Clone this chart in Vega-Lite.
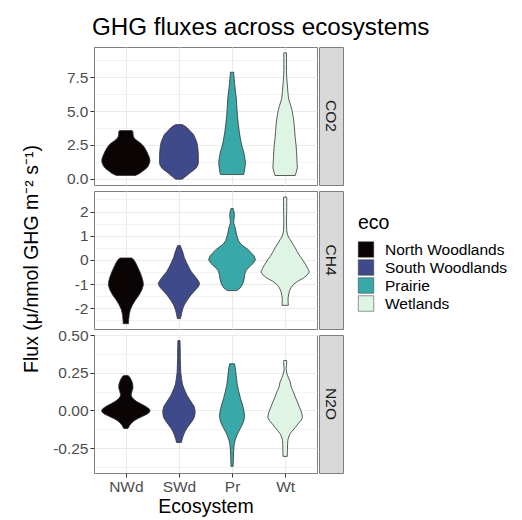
{
"$schema": "https://vega.github.io/schema/vega-lite/v6.json",
"padding": {"left": 21, "top": 16, "right": 5, "bottom": 5},
"background": "white",
"title": {"text": "GHG fluxes across ecosystems", "fontSize": 24.2, "fontWeight": "normal", "color": "black", "anchor": "start", "frame": "bounds", "dx": 70, "offset": 6},
"config": {"font": "Liberation Sans", "view": {"stroke": "#7F7F7F", "strokeWidth": 1}},
"data": {"values": [
{"gas":"CO2","eco":"North Woodlands","value":0.25,"w":0.36},{"gas":"CO2","eco":"North Woodlands","value":0.4,"w":0.52},{"gas":"CO2","eco":"North Woodlands","value":0.56,"w":0.63},{"gas":"CO2","eco":"North Woodlands","value":0.75,"w":0.76},{"gas":"CO2","eco":"North Woodlands","value":0.93,"w":0.84},{"gas":"CO2","eco":"North Woodlands","value":1.15,"w":0.89},{"gas":"CO2","eco":"North Woodlands","value":1.35,"w":0.91},{"gas":"CO2","eco":"North Woodlands","value":1.55,"w":0.89},{"gas":"CO2","eco":"North Woodlands","value":1.79,"w":0.84},{"gas":"CO2","eco":"North Woodlands","value":2.05,"w":0.78},{"gas":"CO2","eco":"North Woodlands","value":2.29,"w":0.71},{"gas":"CO2","eco":"North Woodlands","value":2.5,"w":0.63},{"gas":"CO2","eco":"North Woodlands","value":2.65,"w":0.55},{"gas":"CO2","eco":"North Woodlands","value":2.8,"w":0.44},{"gas":"CO2","eco":"North Woodlands","value":2.95,"w":0.34},{"gas":"CO2","eco":"North Woodlands","value":3.1,"w":0.29},{"gas":"CO2","eco":"North Woodlands","value":3.3,"w":0.27},{"gas":"CO2","eco":"North Woodlands","value":3.45,"w":0.27},{"gas":"CO2","eco":"North Woodlands","value":3.56,"w":0.24},
{"gas":"CO2","eco":"South Woodlands","value":-0.02,"w":0.12},{"gas":"CO2","eco":"South Woodlands","value":0.07,"w":0.18},{"gas":"CO2","eco":"South Woodlands","value":0.25,"w":0.3},{"gas":"CO2","eco":"South Woodlands","value":0.44,"w":0.41},{"gas":"CO2","eco":"South Woodlands","value":0.62,"w":0.54},{"gas":"CO2","eco":"South Woodlands","value":0.81,"w":0.65},{"gas":"CO2","eco":"South Woodlands","value":1.0,"w":0.71},{"gas":"CO2","eco":"South Woodlands","value":1.18,"w":0.73},{"gas":"CO2","eco":"South Woodlands","value":1.5,"w":0.73},{"gas":"CO2","eco":"South Woodlands","value":1.79,"w":0.73},{"gas":"CO2","eco":"South Woodlands","value":2.05,"w":0.72},{"gas":"CO2","eco":"South Woodlands","value":2.29,"w":0.71},{"gas":"CO2","eco":"South Woodlands","value":2.55,"w":0.69},{"gas":"CO2","eco":"South Woodlands","value":2.78,"w":0.66},{"gas":"CO2","eco":"South Woodlands","value":3.05,"w":0.6},{"gas":"CO2","eco":"South Woodlands","value":3.27,"w":0.55},{"gas":"CO2","eco":"South Woodlands","value":3.5,"w":0.44},{"gas":"CO2","eco":"South Woodlands","value":3.76,"w":0.31},{"gas":"CO2","eco":"South Woodlands","value":3.9,"w":0.22},{"gas":"CO2","eco":"South Woodlands","value":4.0,"w":0.12},
{"gas":"CO2","eco":"Prairie","value":0.32,"w":0.44},{"gas":"CO2","eco":"Prairie","value":0.44,"w":0.45},{"gas":"CO2","eco":"Prairie","value":0.6,"w":0.47},{"gas":"CO2","eco":"Prairie","value":0.81,"w":0.48},{"gas":"CO2","eco":"Prairie","value":1.05,"w":0.5},{"gas":"CO2","eco":"Prairie","value":1.3,"w":0.5},{"gas":"CO2","eco":"Prairie","value":1.55,"w":0.48},{"gas":"CO2","eco":"Prairie","value":1.79,"w":0.46},{"gas":"CO2","eco":"Prairie","value":2.05,"w":0.43},{"gas":"CO2","eco":"Prairie","value":2.29,"w":0.39},{"gas":"CO2","eco":"Prairie","value":2.6,"w":0.35},{"gas":"CO2","eco":"Prairie","value":3.02,"w":0.31},{"gas":"CO2","eco":"Prairie","value":3.5,"w":0.27},{"gas":"CO2","eco":"Prairie","value":4.0,"w":0.24},{"gas":"CO2","eco":"Prairie","value":4.5,"w":0.21},{"gas":"CO2","eco":"Prairie","value":4.99,"w":0.19},{"gas":"CO2","eco":"Prairie","value":5.5,"w":0.175},{"gas":"CO2","eco":"Prairie","value":5.97,"w":0.16},{"gas":"CO2","eco":"Prairie","value":6.45,"w":0.13},{"gas":"CO2","eco":"Prairie","value":6.95,"w":0.1},{"gas":"CO2","eco":"Prairie","value":7.4,"w":0.08},{"gas":"CO2","eco":"Prairie","value":7.86,"w":0.06},
{"gas":"CO2","eco":"Wetlands","value":0.25,"w":0.38},{"gas":"CO2","eco":"Wetlands","value":0.44,"w":0.41},{"gas":"CO2","eco":"Wetlands","value":0.81,"w":0.46},{"gas":"CO2","eco":"Wetlands","value":1.2,"w":0.45},{"gas":"CO2","eco":"Wetlands","value":1.55,"w":0.44},{"gas":"CO2","eco":"Wetlands","value":2.0,"w":0.43},{"gas":"CO2","eco":"Wetlands","value":2.53,"w":0.41},{"gas":"CO2","eco":"Wetlands","value":3.0,"w":0.38},{"gas":"CO2","eco":"Wetlands","value":3.51,"w":0.36},{"gas":"CO2","eco":"Wetlands","value":4.0,"w":0.34},{"gas":"CO2","eco":"Wetlands","value":4.5,"w":0.31},{"gas":"CO2","eco":"Wetlands","value":4.85,"w":0.28},{"gas":"CO2","eco":"Wetlands","value":5.13,"w":0.25},{"gas":"CO2","eco":"Wetlands","value":5.4,"w":0.21},{"gas":"CO2","eco":"Wetlands","value":5.6,"w":0.18},{"gas":"CO2","eco":"Wetlands","value":5.9,"w":0.13},{"gas":"CO2","eco":"Wetlands","value":6.46,"w":0.1},{"gas":"CO2","eco":"Wetlands","value":7.0,"w":0.08},{"gas":"CO2","eco":"Wetlands","value":7.45,"w":0.06},{"gas":"CO2","eco":"Wetlands","value":8.0,"w":0.05},{"gas":"CO2","eco":"Wetlands","value":8.43,"w":0.05},{"gas":"CO2","eco":"Wetlands","value":8.9,"w":0.05},{"gas":"CO2","eco":"Wetlands","value":9.29,"w":0.05},
{"gas":"CH4","eco":"North Woodlands","value":-2.64,"w":0.1},{"gas":"CH4","eco":"North Woodlands","value":-2.45,"w":0.11},{"gas":"CH4","eco":"North Woodlands","value":-2.25,"w":0.13},{"gas":"CH4","eco":"North Woodlands","value":-2.06,"w":0.17},{"gas":"CH4","eco":"North Woodlands","value":-1.85,"w":0.26},{"gas":"CH4","eco":"North Woodlands","value":-1.65,"w":0.37},{"gas":"CH4","eco":"North Woodlands","value":-1.45,"w":0.5},{"gas":"CH4","eco":"North Woodlands","value":-1.25,"w":0.6},{"gas":"CH4","eco":"North Woodlands","value":-1.05,"w":0.66},{"gas":"CH4","eco":"North Woodlands","value":-0.9,"w":0.65},{"gas":"CH4","eco":"North Woodlands","value":-0.7,"w":0.6},{"gas":"CH4","eco":"North Woodlands","value":-0.5,"w":0.53},{"gas":"CH4","eco":"North Woodlands","value":-0.3,"w":0.45},{"gas":"CH4","eco":"North Woodlands","value":-0.1,"w":0.36},{"gas":"CH4","eco":"North Woodlands","value":0.02,"w":0.29},{"gas":"CH4","eco":"North Woodlands","value":0.08,"w":0.22},
{"gas":"CH4","eco":"South Woodlands","value":-2.43,"w":0.06},{"gas":"CH4","eco":"South Woodlands","value":-2.2,"w":0.1},{"gas":"CH4","eco":"South Woodlands","value":-2.0,"w":0.15},{"gas":"CH4","eco":"South Woodlands","value":-1.85,"w":0.21},{"gas":"CH4","eco":"South Woodlands","value":-1.65,"w":0.32},{"gas":"CH4","eco":"South Woodlands","value":-1.44,"w":0.46},{"gas":"CH4","eco":"South Woodlands","value":-1.25,"w":0.62},{"gas":"CH4","eco":"South Woodlands","value":-1.1,"w":0.74},{"gas":"CH4","eco":"South Woodlands","value":-0.97,"w":0.78},{"gas":"CH4","eco":"South Woodlands","value":-0.85,"w":0.72},{"gas":"CH4","eco":"South Woodlands","value":-0.7,"w":0.62},{"gas":"CH4","eco":"South Woodlands","value":-0.5,"w":0.47},{"gas":"CH4","eco":"South Woodlands","value":-0.3,"w":0.37},{"gas":"CH4","eco":"South Woodlands","value":-0.1,"w":0.28},{"gas":"CH4","eco":"South Woodlands","value":0.1,"w":0.2},{"gas":"CH4","eco":"South Woodlands","value":0.3,"w":0.15},{"gas":"CH4","eco":"South Woodlands","value":0.45,"w":0.1},{"gas":"CH4","eco":"South Woodlands","value":0.59,"w":0.05},
{"gas":"CH4","eco":"Prairie","value":-1.27,"w":0.18},{"gas":"CH4","eco":"Prairie","value":-1.15,"w":0.32},{"gas":"CH4","eco":"Prairie","value":-1.0,"w":0.4},{"gas":"CH4","eco":"Prairie","value":-0.8,"w":0.45},{"gas":"CH4","eco":"Prairie","value":-0.6,"w":0.48},{"gas":"CH4","eco":"Prairie","value":-0.45,"w":0.52},{"gas":"CH4","eco":"Prairie","value":-0.3,"w":0.64},{"gas":"CH4","eco":"Prairie","value":-0.15,"w":0.79},{"gas":"CH4","eco":"Prairie","value":0.0,"w":0.88},{"gas":"CH4","eco":"Prairie","value":0.15,"w":0.84},{"gas":"CH4","eco":"Prairie","value":0.3,"w":0.72},{"gas":"CH4","eco":"Prairie","value":0.43,"w":0.6},{"gas":"CH4","eco":"Prairie","value":0.55,"w":0.45},{"gas":"CH4","eco":"Prairie","value":0.65,"w":0.33},{"gas":"CH4","eco":"Prairie","value":0.8,"w":0.24},{"gas":"CH4","eco":"Prairie","value":0.98,"w":0.19},{"gas":"CH4","eco":"Prairie","value":1.15,"w":0.15},{"gas":"CH4","eco":"Prairie","value":1.33,"w":0.12},{"gas":"CH4","eco":"Prairie","value":1.5,"w":0.07},{"gas":"CH4","eco":"Prairie","value":1.6,"w":0.06},{"gas":"CH4","eco":"Prairie","value":1.75,"w":0.08},{"gas":"CH4","eco":"Prairie","value":1.88,"w":0.09},{"gas":"CH4","eco":"Prairie","value":2.0,"w":0.07},{"gas":"CH4","eco":"Prairie","value":2.13,"w":0.04},
{"gas":"CH4","eco":"Wetlands","value":-1.88,"w":0.12},{"gas":"CH4","eco":"Wetlands","value":-1.7,"w":0.11},{"gas":"CH4","eco":"Wetlands","value":-1.58,"w":0.11},{"gas":"CH4","eco":"Wetlands","value":-1.45,"w":0.13},{"gas":"CH4","eco":"Wetlands","value":-1.3,"w":0.16},{"gas":"CH4","eco":"Wetlands","value":-1.15,"w":0.22},{"gas":"CH4","eco":"Wetlands","value":-1.02,"w":0.31},{"gas":"CH4","eco":"Wetlands","value":-0.88,"w":0.48},{"gas":"CH4","eco":"Wetlands","value":-0.75,"w":0.69},{"gas":"CH4","eco":"Wetlands","value":-0.62,"w":0.84},{"gas":"CH4","eco":"Wetlands","value":-0.5,"w":0.91},{"gas":"CH4","eco":"Wetlands","value":-0.35,"w":0.85},{"gas":"CH4","eco":"Wetlands","value":-0.19,"w":0.77},{"gas":"CH4","eco":"Wetlands","value":0.0,"w":0.66},{"gas":"CH4","eco":"Wetlands","value":0.15,"w":0.56},{"gas":"CH4","eco":"Wetlands","value":0.35,"w":0.45},{"gas":"CH4","eco":"Wetlands","value":0.5,"w":0.38},{"gas":"CH4","eco":"Wetlands","value":0.65,"w":0.29},{"gas":"CH4","eco":"Wetlands","value":0.84,"w":0.19},{"gas":"CH4","eco":"Wetlands","value":0.95,"w":0.12},{"gas":"CH4","eco":"Wetlands","value":1.05,"w":0.09},{"gas":"CH4","eco":"Wetlands","value":1.2,"w":0.06},{"gas":"CH4","eco":"Wetlands","value":1.6,"w":0.05},{"gas":"CH4","eco":"Wetlands","value":2.16,"w":0.06},{"gas":"CH4","eco":"Wetlands","value":2.4,"w":0.06},{"gas":"CH4","eco":"Wetlands","value":2.6,"w":0.06},
{"gas":"N2O","eco":"North Woodlands","value":-0.12,"w":0.08},{"gas":"N2O","eco":"North Woodlands","value":-0.1,"w":0.14},{"gas":"N2O","eco":"North Woodlands","value":-0.085,"w":0.21},{"gas":"N2O","eco":"North Woodlands","value":-0.07,"w":0.3},{"gas":"N2O","eco":"North Woodlands","value":-0.055,"w":0.44},{"gas":"N2O","eco":"North Woodlands","value":-0.04,"w":0.62},{"gas":"N2O","eco":"North Woodlands","value":-0.025,"w":0.8},{"gas":"N2O","eco":"North Woodlands","value":-0.01,"w":0.9},{"gas":"N2O","eco":"North Woodlands","value":0.003,"w":0.91},{"gas":"N2O","eco":"North Woodlands","value":0.015,"w":0.85},{"gas":"N2O","eco":"North Woodlands","value":0.03,"w":0.72},{"gas":"N2O","eco":"North Woodlands","value":0.045,"w":0.55},{"gas":"N2O","eco":"North Woodlands","value":0.06,"w":0.4},{"gas":"N2O","eco":"North Woodlands","value":0.075,"w":0.29},{"gas":"N2O","eco":"North Woodlands","value":0.09,"w":0.22},{"gas":"N2O","eco":"North Woodlands","value":0.105,"w":0.2},{"gas":"N2O","eco":"North Woodlands","value":0.125,"w":0.23},{"gas":"N2O","eco":"North Woodlands","value":0.15,"w":0.27},{"gas":"N2O","eco":"North Woodlands","value":0.175,"w":0.26},{"gas":"N2O","eco":"North Woodlands","value":0.2,"w":0.21},{"gas":"N2O","eco":"North Woodlands","value":0.22,"w":0.15},{"gas":"N2O","eco":"North Woodlands","value":0.232,"w":0.08},
{"gas":"N2O","eco":"South Woodlands","value":-0.213,"w":0.09},{"gas":"N2O","eco":"South Woodlands","value":-0.184,"w":0.13},{"gas":"N2O","eco":"South Woodlands","value":-0.16,"w":0.18},{"gas":"N2O","eco":"South Woodlands","value":-0.14,"w":0.23},{"gas":"N2O","eco":"South Woodlands","value":-0.118,"w":0.3},{"gas":"N2O","eco":"South Woodlands","value":-0.096,"w":0.39},{"gas":"N2O","eco":"South Woodlands","value":-0.075,"w":0.48},{"gas":"N2O","eco":"South Woodlands","value":-0.053,"w":0.56},{"gas":"N2O","eco":"South Woodlands","value":-0.03,"w":0.6},{"gas":"N2O","eco":"South Woodlands","value":-0.009,"w":0.61},{"gas":"N2O","eco":"South Woodlands","value":0.015,"w":0.59},{"gas":"N2O","eco":"South Woodlands","value":0.03,"w":0.56},{"gas":"N2O","eco":"South Woodlands","value":0.046,"w":0.5},{"gas":"N2O","eco":"South Woodlands","value":0.07,"w":0.41},{"gas":"N2O","eco":"South Woodlands","value":0.1,"w":0.3},{"gas":"N2O","eco":"South Woodlands","value":0.125,"w":0.24},{"gas":"N2O","eco":"South Woodlands","value":0.145,"w":0.19},{"gas":"N2O","eco":"South Woodlands","value":0.175,"w":0.13},{"gas":"N2O","eco":"South Woodlands","value":0.21,"w":0.1},{"gas":"N2O","eco":"South Woodlands","value":0.25,"w":0.07},{"gas":"N2O","eco":"South Woodlands","value":0.298,"w":0.06},{"gas":"N2O","eco":"South Woodlands","value":0.35,"w":0.05},{"gas":"N2O","eco":"South Woodlands","value":0.386,"w":0.05},{"gas":"N2O","eco":"South Woodlands","value":0.43,"w":0.045},{"gas":"N2O","eco":"South Woodlands","value":0.463,"w":0.04},
{"gas":"N2O","eco":"Prairie","value":-0.371,"w":0.04},{"gas":"N2O","eco":"Prairie","value":-0.316,"w":0.05},{"gas":"N2O","eco":"Prairie","value":-0.27,"w":0.06},{"gas":"N2O","eco":"Prairie","value":-0.228,"w":0.08},{"gas":"N2O","eco":"Prairie","value":-0.195,"w":0.12},{"gas":"N2O","eco":"Prairie","value":-0.162,"w":0.19},{"gas":"N2O","eco":"Prairie","value":-0.13,"w":0.28},{"gas":"N2O","eco":"Prairie","value":-0.096,"w":0.38},{"gas":"N2O","eco":"Prairie","value":-0.07,"w":0.44},{"gas":"N2O","eco":"Prairie","value":-0.042,"w":0.47},{"gas":"N2O","eco":"Prairie","value":-0.015,"w":0.46},{"gas":"N2O","eco":"Prairie","value":0.013,"w":0.43},{"gas":"N2O","eco":"Prairie","value":0.045,"w":0.38},{"gas":"N2O","eco":"Prairie","value":0.079,"w":0.32},{"gas":"N2O","eco":"Prairie","value":0.12,"w":0.26},{"gas":"N2O","eco":"Prairie","value":0.167,"w":0.2},{"gas":"N2O","eco":"Prairie","value":0.21,"w":0.17},{"gas":"N2O","eco":"Prairie","value":0.254,"w":0.14},{"gas":"N2O","eco":"Prairie","value":0.285,"w":0.12},{"gas":"N2O","eco":"Prairie","value":0.309,"w":0.09},
{"gas":"N2O","eco":"Wetlands","value":-0.305,"w":0.08},{"gas":"N2O","eco":"Wetlands","value":-0.27,"w":0.085},{"gas":"N2O","eco":"Wetlands","value":-0.228,"w":0.09},{"gas":"N2O","eco":"Wetlands","value":-0.2,"w":0.1},{"gas":"N2O","eco":"Wetlands","value":-0.184,"w":0.12},{"gas":"N2O","eco":"Wetlands","value":-0.16,"w":0.17},{"gas":"N2O","eco":"Wetlands","value":-0.14,"w":0.25},{"gas":"N2O","eco":"Wetlands","value":-0.115,"w":0.37},{"gas":"N2O","eco":"Wetlands","value":-0.086,"w":0.5},{"gas":"N2O","eco":"Wetlands","value":-0.065,"w":0.6},{"gas":"N2O","eco":"Wetlands","value":-0.048,"w":0.65},{"gas":"N2O","eco":"Wetlands","value":-0.03,"w":0.64},{"gas":"N2O","eco":"Wetlands","value":-0.009,"w":0.61},{"gas":"N2O","eco":"Wetlands","value":0.025,"w":0.53},{"gas":"N2O","eco":"Wetlands","value":0.057,"w":0.46},{"gas":"N2O","eco":"Wetlands","value":0.09,"w":0.38},{"gas":"N2O","eco":"Wetlands","value":0.123,"w":0.31},{"gas":"N2O","eco":"Wetlands","value":0.155,"w":0.23},{"gas":"N2O","eco":"Wetlands","value":0.189,"w":0.19},{"gas":"N2O","eco":"Wetlands","value":0.21,"w":0.14},{"gas":"N2O","eco":"Wetlands","value":0.232,"w":0.09},{"gas":"N2O","eco":"Wetlands","value":0.255,"w":0.05},{"gas":"N2O","eco":"Wetlands","value":0.276,"w":0.04},{"gas":"N2O","eco":"Wetlands","value":0.3,"w":0.05},{"gas":"N2O","eco":"Wetlands","value":0.318,"w":0.06},{"gas":"N2O","eco":"Wetlands","value":0.331,"w":0.05}
]},
"spacing": 10,
"hconcat": [
{"width": 20, "height": 424, "view": {"stroke": null, "fill": null},
 "transform": [{"aggregate": [{"op": "count", "as": "n"}]}],
 "mark": {"type": "text", "angle": 270, "fontSize": 19.5, "color": "black", "align": "center", "baseline": "middle"},
 "encoding": {"text": {"value": "Flux (μ/nmol GHG m⁻² s⁻¹)"}}},
{"spacing": 0, "hconcat": [
{"spacing": 6, "bounds": "flush", "vconcat": [
 {"width": 223, "height": 138,
  "transform": [{"filter": "datum.gas == 'CO2'"}],
  "encoding": {
   "y": {"field": "value", "type": "quantitative", "scale": {"domain": [-0.45, 9.72], "nice": false, "zero": false},
     "axis": {"title": null, "values": [0, 1.25, 2.5, 3.75, 5, 6.25, 7.5, 8.75], "labelExpr": "abs(datum.value % 2.5) < 1e-6 ? format(datum.value, '.1f') : ''", "labelFontSize": 15.5, "labelColor": "#4D4D4D", "tickSize": 4, "tickColor": "#333333", "labelPadding": 2, "domain": false, "grid": true, "gridColor": "#EBEBEB", "gridWidth": {"condition": {"test": "abs(datum.value % 2.5) < 1e-6", "value": 1.1}, "value": 0.6}, "tickOpacity": {"condition": {"test": "abs(datum.value % 2.5) < 1e-6", "value": 1}, "value": 0}}},
   "color": {"field": "eco", "type": "nominal", "scale": {"domain": ["North Woodlands", "South Woodlands", "Prairie", "Wetlands"], "range": ["#0B0405", "#3E4A8A", "#38A8A8", "#DEF5E5"]},
     "legend": {"title": "eco", "orient": "none", "legendX": 336, "legendY": 167, "padding": 0, "titleFontSize": 19.5, "titleFontWeight": "normal", "titleColor": "black", "titlePadding": 8, "labelFontSize": 15.5, "labelColor": "black", "labelOffset": 11, "symbolType": "square", "symbolSize": 240, "symbolStrokeColor": "#333333", "symbolStrokeWidth": 0.5, "symbolOpacity": 1, "rowPadding": 0}}
  },
  "layer": [
   {"mark": {"type": "point", "opacity": 0}, "encoding": {"color": {"value": "white"}, "x": {"field": "eco", "type": "nominal", "scale": {"type": "point", "padding": 0.6, "domain": ["North Woodlands", "South Woodlands", "Prairie", "Wetlands"]}, "axis": {"title": null, "labels": false, "ticks": false, "domain": false, "grid": true, "gridColor": "#EBEBEB", "gridWidth": 1.1}}}},
   {"transform": [{"filter": "datum.eco == 'North Woodlands'"}], "mark": {"type": "area", "orient": "horizontal", "stroke": "#333333", "strokeWidth": 0.8, "opacity": 1}, "encoding": {"x": {"field": "w", "type": "quantitative", "stack": "center", "impute": null, "scale": {"domain": [-0.145, 4.055], "nice": false, "zero": false}, "axis": null}}},
   {"transform": [{"filter": "datum.eco == 'South Woodlands'"}], "mark": {"type": "area", "orient": "horizontal", "stroke": "#333333", "strokeWidth": 0.8, "opacity": 1}, "encoding": {"x": {"field": "w", "type": "quantitative", "stack": "center", "impute": null, "scale": {"domain": [-1.235, 2.965], "nice": false, "zero": false}, "axis": null}}},
   {"transform": [{"filter": "datum.eco == 'Prairie'"}], "mark": {"type": "area", "orient": "horizontal", "stroke": "#333333", "strokeWidth": 0.8, "opacity": 1}, "encoding": {"x": {"field": "w", "type": "quantitative", "stack": "center", "impute": null, "scale": {"domain": [-2.35, 1.85], "nice": false, "zero": false}, "axis": null}}},
   {"transform": [{"filter": "datum.eco == 'Wetlands'"}], "mark": {"type": "area", "orient": "horizontal", "stroke": "#333333", "strokeWidth": 0.8, "opacity": 1}, "encoding": {"x": {"field": "w", "type": "quantitative", "stack": "center", "impute": null, "scale": {"domain": [-3.37, 0.83], "nice": false, "zero": false}, "axis": null}}}
  ],
  "resolve": {"scale": {"x": "independent"}}
 },
 {"width": 223, "height": 138,
  "transform": [{"filter": "datum.gas == 'CH4'"}],
  "encoding": {
   "y": {"field": "value", "type": "quantitative", "scale": {"domain": [-2.86, 2.85], "nice": false, "zero": false},
     "axis": {"title": null, "values": [-2.5, -2, -1.5, -1, -0.5, 0, 0.5, 1, 1.5, 2, 2.5], "labelExpr": "abs(datum.value % 1) < 1e-6 ? '' + datum.value : ''", "labelFontSize": 15.5, "labelColor": "#4D4D4D", "tickSize": 4, "tickColor": "#333333", "labelPadding": 2, "domain": false, "grid": true, "gridColor": "#EBEBEB", "gridWidth": {"condition": {"test": "abs(datum.value % 1) < 1e-6", "value": 1.1}, "value": 0.6}, "tickOpacity": {"condition": {"test": "abs(datum.value % 1) < 1e-6", "value": 1}, "value": 0}}},
   "color": {"field": "eco", "type": "nominal", "scale": {"domain": ["North Woodlands", "South Woodlands", "Prairie", "Wetlands"], "range": ["#0B0405", "#3E4A8A", "#38A8A8", "#DEF5E5"]},
     "legend": {"title": "eco", "orient": "none", "legendX": 336, "legendY": 167, "padding": 0, "titleFontSize": 19.5, "titleFontWeight": "normal", "titleColor": "black", "titlePadding": 8, "labelFontSize": 15.5, "labelColor": "black", "labelOffset": 11, "symbolType": "square", "symbolSize": 240, "symbolStrokeColor": "#333333", "symbolStrokeWidth": 0.5, "symbolOpacity": 1, "rowPadding": 0}}
  },
  "layer": [
   {"mark": {"type": "point", "opacity": 0}, "encoding": {"color": {"value": "white"}, "x": {"field": "eco", "type": "nominal", "scale": {"type": "point", "padding": 0.6, "domain": ["North Woodlands", "South Woodlands", "Prairie", "Wetlands"]}, "axis": {"title": null, "labels": false, "ticks": false, "domain": false, "grid": true, "gridColor": "#EBEBEB", "gridWidth": 1.1}}}},
   {"transform": [{"filter": "datum.eco == 'North Woodlands'"}], "mark": {"type": "area", "orient": "horizontal", "stroke": "#333333", "strokeWidth": 0.8, "opacity": 1}, "encoding": {"x": {"field": "w", "type": "quantitative", "stack": "center", "impute": null, "scale": {"domain": [-0.27, 3.93], "nice": false, "zero": false}, "axis": null}}},
   {"transform": [{"filter": "datum.eco == 'South Woodlands'"}], "mark": {"type": "area", "orient": "horizontal", "stroke": "#333333", "strokeWidth": 0.8, "opacity": 1}, "encoding": {"x": {"field": "w", "type": "quantitative", "stack": "center", "impute": null, "scale": {"domain": [-1.21, 2.99], "nice": false, "zero": false}, "axis": null}}},
   {"transform": [{"filter": "datum.eco == 'Prairie'"}], "mark": {"type": "area", "orient": "horizontal", "stroke": "#333333", "strokeWidth": 0.8, "opacity": 1}, "encoding": {"x": {"field": "w", "type": "quantitative", "stack": "center", "impute": null, "scale": {"domain": [-2.16, 2.04], "nice": false, "zero": false}, "axis": null}}},
   {"transform": [{"filter": "datum.eco == 'Wetlands'"}], "mark": {"type": "area", "orient": "horizontal", "stroke": "#333333", "strokeWidth": 0.8, "opacity": 1}, "encoding": {"x": {"field": "w", "type": "quantitative", "stack": "center", "impute": null, "scale": {"domain": [-3.145, 1.055], "nice": false, "zero": false}, "axis": null}}}
  ],
  "resolve": {"scale": {"x": "independent"}}
 },
 {"width": 223, "height": 138,
  "transform": [{"filter": "datum.gas == 'N2O'"}],
  "encoding": {
   "y": {"field": "value", "type": "quantitative", "scale": {"domain": [-0.415, 0.5], "nice": false, "zero": false},
     "axis": {"title": null, "values": [-0.375, -0.25, -0.125, 0, 0.125, 0.25, 0.375, 0.5], "labelExpr": "abs(datum.value % 0.25) < 1e-6 ? replace(format(datum.value, '.2f'), '−', '-') : ''", "labelFontSize": 15.5, "labelColor": "#4D4D4D", "tickSize": 4, "tickColor": "#333333", "labelPadding": 2, "domain": false, "grid": true, "gridColor": "#EBEBEB", "gridWidth": {"condition": {"test": "abs(datum.value % 0.25) < 1e-6", "value": 1.1}, "value": 0.6}, "tickOpacity": {"condition": {"test": "abs(datum.value % 0.25) < 1e-6", "value": 1}, "value": 0}}},
   "color": {"field": "eco", "type": "nominal", "scale": {"domain": ["North Woodlands", "South Woodlands", "Prairie", "Wetlands"], "range": ["#0B0405", "#3E4A8A", "#38A8A8", "#DEF5E5"]},
     "legend": {"title": "eco", "orient": "none", "legendX": 336, "legendY": 167, "padding": 0, "titleFontSize": 19.5, "titleFontWeight": "normal", "titleColor": "black", "titlePadding": 8, "labelFontSize": 15.5, "labelColor": "black", "labelOffset": 11, "symbolType": "square", "symbolSize": 240, "symbolStrokeColor": "#333333", "symbolStrokeWidth": 0.5, "symbolOpacity": 1, "rowPadding": 0}}
  },
  "layer": [
   {"mark": {"type": "point", "opacity": 0}, "encoding": {"color": {"value": "white"}, "x": {"field": "eco", "type": "nominal", "scale": {"type": "point", "padding": 0.6, "domain": ["North Woodlands", "South Woodlands", "Prairie", "Wetlands"]}, "axis": {"title": "Ecosystem", "labelExpr": "datum.label == 'North Woodlands' ? 'NWd' : datum.label == 'South Woodlands' ? 'SWd' : datum.label == 'Prairie' ? 'Pr' : 'Wt'", "labelAngle": 0, "labelFontSize": 15.5, "labelColor": "#4D4D4D", "tickSize": 4, "tickColor": "#333333", "labelPadding": 2, "titleFontSize": 19.5, "titleFontWeight": "normal", "titleColor": "black", "titlePadding": 3, "domain": false, "grid": true, "gridColor": "#EBEBEB", "gridWidth": 1.1}}}},
   {"transform": [{"filter": "datum.eco == 'North Woodlands'"}], "mark": {"type": "area", "orient": "horizontal", "stroke": "#333333", "strokeWidth": 0.8, "opacity": 1}, "encoding": {"x": {"field": "w", "type": "quantitative", "stack": "center", "impute": null, "scale": {"domain": [-0.145, 4.055], "nice": false, "zero": false}, "axis": null}}},
   {"transform": [{"filter": "datum.eco == 'South Woodlands'"}], "mark": {"type": "area", "orient": "horizontal", "stroke": "#333333", "strokeWidth": 0.8, "opacity": 1}, "encoding": {"x": {"field": "w", "type": "quantitative", "stack": "center", "impute": null, "scale": {"domain": [-1.295, 2.905], "nice": false, "zero": false}, "axis": null}}},
   {"transform": [{"filter": "datum.eco == 'Prairie'"}], "mark": {"type": "area", "orient": "horizontal", "stroke": "#333333", "strokeWidth": 0.8, "opacity": 1}, "encoding": {"x": {"field": "w", "type": "quantitative", "stack": "center", "impute": null, "scale": {"domain": [-2.365, 1.835], "nice": false, "zero": false}, "axis": null}}},
   {"transform": [{"filter": "datum.eco == 'Wetlands'"}], "mark": {"type": "area", "orient": "horizontal", "stroke": "#333333", "strokeWidth": 0.8, "opacity": 1}, "encoding": {"x": {"field": "w", "type": "quantitative", "stack": "center", "impute": null, "scale": {"domain": [-3.275, 0.925], "nice": false, "zero": false}, "axis": null}}}
  ],
  "resolve": {"scale": {"x": "independent"}}
 }
]},
{"spacing": 6, "bounds": "flush", "vconcat": [
 {"width": 24, "height": 138, "view": {"fill": "#D9D9D9", "stroke": "#7F7F7F"},
  "transform": [{"filter": "datum.gas == 'CO2'"}, {"aggregate": [{"op": "count", "as": "n"}], "groupby": ["gas"]}],
  "mark": {"type": "text", "angle": 90, "fontSize": 15.5, "color": "#1A1A1A", "align": "center", "baseline": "middle"},
  "encoding": {"text": {"field": "gas", "type": "nominal"}}},
 {"width": 24, "height": 138, "view": {"fill": "#D9D9D9", "stroke": "#7F7F7F"},
  "transform": [{"filter": "datum.gas == 'CH4'"}, {"aggregate": [{"op": "count", "as": "n"}], "groupby": ["gas"]}],
  "mark": {"type": "text", "angle": 90, "fontSize": 15.5, "color": "#1A1A1A", "align": "center", "baseline": "middle"},
  "encoding": {"text": {"field": "gas", "type": "nominal"}}},
 {"width": 24, "height": 138, "view": {"fill": "#D9D9D9", "stroke": "#7F7F7F"},
  "transform": [{"filter": "datum.gas == 'N2O'"}, {"aggregate": [{"op": "count", "as": "n"}], "groupby": ["gas"]}],
  "mark": {"type": "text", "angle": 90, "fontSize": 15.5, "color": "#1A1A1A", "align": "center", "baseline": "middle"},
  "encoding": {"text": {"field": "gas", "type": "nominal"}}}
]}
]}
]
}
